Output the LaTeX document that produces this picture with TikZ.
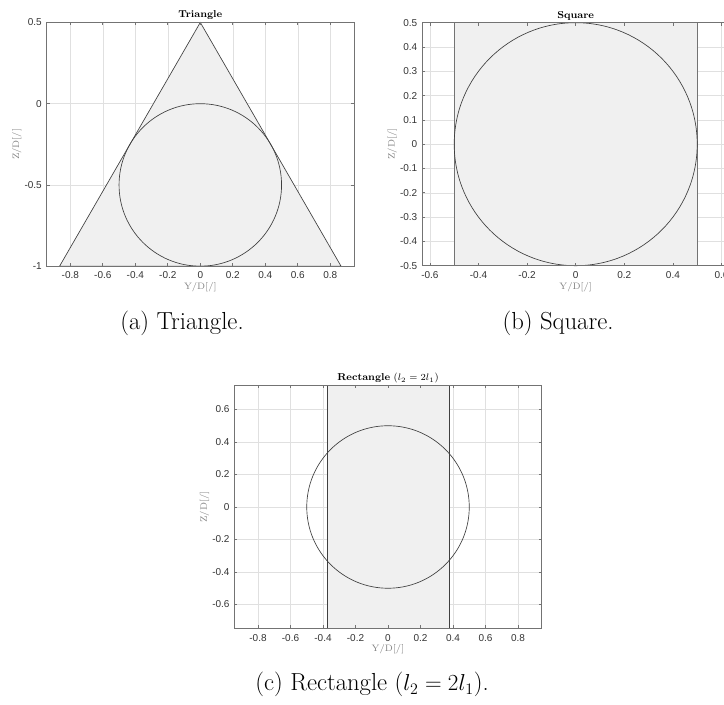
\documentclass[tikz,border=0pt]{standalone}
\usepackage{fontspec}
\newfontfamily\ticksf{Liberation Sans}
\usepackage{tikz}

\definecolor{facegray}{gray}{0.94}
\definecolor{edgegray}{gray}{0.25}
\definecolor{boxgray}{gray}{0.45}
\definecolor{gridgray}{gray}{0.88}

\tikzset{
  gridline/.style={draw=gridgray, line width=0.4pt},
  fillshape/.style={fill=facegray, draw=edgegray, line width=0.5pt},
  incircle/.style={draw=edgegray, line width=0.5pt},
  axisbox/.style={draw=boxgray, line width=0.5pt},
  ticklabel/.style={font=\ticksf\fontsize{7.5}{9}\selectfont, text=black!80, inner sep=0pt},
  axlabel/.style={font=\fontsize{7}{8}\selectfont, text=black!50, inner sep=0pt},
  plottitle/.style={font=\fontsize{7.5}{9}\selectfont, inner sep=0pt},
  subcap/.style={font=\fontsize{18.5}{22}\selectfont, inner sep=0pt, anchor=base},
}

\begin{document}
\begin{tikzpicture}[x=0.75pt,y=0.75pt]
  \clip (0,0) rectangle (724,705);

  %(a) 三角形
  \begin{scope}[shift={(200.3,601.3)},x=121.875pt,y=121.875pt]
    %グリッド
    \foreach \x in {-0.8,-0.6,-0.4,-0.2,0,0.2,0.4,0.6,0.8}
      \draw[gridline] (\x,-1) -- (\x,0.5);
    \foreach \y in {-1,-0.5,0,0.5}
      \draw[gridline] (-0.945,\y) -- (0.945,\y);

    %三角形と内接円
    \draw[fillshape] (0,0.5) -- (-0.866,-1) -- (0.866,-1) -- cycle;
    \draw[incircle] (0,-0.5) circle (0.5);

    %枠と目盛り
    \draw[axisbox] (-0.945,-1) rectangle (0.945,0.5);
    \foreach \x [count=\i] in {-0.8,-0.6,-0.4,-0.2,0,0.2,0.4,0.6,0.8} {
      \draw[axisbox] (\x,-1) -- ++(0pt,2.25pt);
      \draw[axisbox] (\x,0.5) -- ++(0pt,-2.25pt);
      \node[ticklabel, anchor=base, yshift=-9.5pt] (ax\i) at (\x,-1) {\x};
    }
    \foreach \y [count=\i] in {-1,-0.5,0,0.5} {
      \draw[axisbox] (-0.945,\y) -- ++(2.25pt,0pt);
      \draw[axisbox] (0.945,\y) -- ++(-2.25pt,0pt);
      \node[ticklabel, anchor=east, xshift=-3.5pt] (ay\i) at (-0.945,\y) {\y};
    }

    %ラベル
    \node[plottitle, anchor=base, yshift=3.5pt] (ta) at (0,0.5) {\textbf{Triangle}};
    \node[axlabel, anchor=base, yshift=-17.5pt] (ya) at (0,-1) {Y/D[/]};
    \node[axlabel, xshift=-22.5pt, rotate=90] (za) at (-0.945,-0.25) {Z/D[/]};
  \end{scope}

  %(b) 正方形
  \begin{scope}[shift={(575.7,560.8)},x=182.25pt,y=182.25pt]
    %グリッド
    \foreach \x in {-0.6,-0.4,-0.2,0,0.2,0.4,0.6}
      \draw[gridline] (\x,-0.5) -- (\x,0.5);
    \foreach \y in {-0.4,-0.3,-0.2,-0.1,0,0.1,0.2,0.3,0.4}
      \draw[gridline] (-0.6318,\y) -- (0.6318,\y);

    %正方形と内接円
    \draw[fillshape, draw=boxgray, line width=0.8pt] (-0.5,-0.5) rectangle (0.5,0.5);
    \draw[incircle] (0,0) circle (0.5);

    %枠と目盛り
    \draw[axisbox] (-0.6318,-0.5) rectangle (0.6318,0.5);
    \foreach \x [count=\i] in {-0.6,-0.4,-0.2,0,0.2,0.4,0.6} {
      \draw[axisbox] (\x,-0.5) -- ++(0pt,2.25pt);
      \draw[axisbox] (\x,0.5) -- ++(0pt,-2.25pt);
      \node[ticklabel, anchor=base, yshift=-9.5pt] (bx\i) at (\x,-0.5) {\x};
    }
    \foreach \y [count=\i] in {-0.5,-0.4,-0.3,-0.2,-0.1,0,0.1,0.2,0.3,0.4,0.5} {
      \draw[axisbox] (-0.6318,\y) -- ++(2.25pt,0pt);
      \draw[axisbox] (0.6318,\y) -- ++(-2.25pt,0pt);
      \node[ticklabel, anchor=east, xshift=-3.5pt] (by\i) at (-0.6318,\y) {\y};
    }

    %ラベル
    \node[plottitle, anchor=base, yshift=3.5pt] (tb) at (0,0.5) {\textbf{Square}};
    \node[axlabel, anchor=base, yshift=-17.5pt] (yb) at (0,-0.5) {Y/D[/]};
    \node[axlabel, xshift=-22.5pt, rotate=90] (zb) at (-0.6318,0) {Z/D[/]};
  \end{scope}

  %(c) 長方形
  \begin{scope}[shift={(388,198)},x=121.875pt,y=121.875pt]
    %グリッド
    \foreach \x in {-0.8,-0.6,-0.4,-0.2,0,0.2,0.4,0.6,0.8}
      \draw[gridline] (\x,-0.7477) -- (\x,0.7477);
    \foreach \y in {-0.6,-0.4,-0.2,0,0.2,0.4,0.6}
      \draw[gridline] (-0.945,\y) -- (0.945,\y);

    %長方形と円
    \draw[fillshape] (-0.375,-0.7477) rectangle (0.375,0.7477);
    \draw[incircle] (0,0) circle (0.5);

    %枠と目盛り
    \draw[axisbox] (-0.945,-0.7477) rectangle (0.945,0.7477);
    \foreach \x [count=\i] in {-0.8,-0.6,-0.4,-0.2,0,0.2,0.4,0.6,0.8} {
      \draw[axisbox] (\x,-0.7477) -- ++(0pt,2.25pt);
      \draw[axisbox] (\x,0.7477) -- ++(0pt,-2.25pt);
      \node[ticklabel, anchor=base, yshift=-9.5pt] (cx\i) at (\x,-0.7477) {\x};
    }
    \foreach \y [count=\i] in {-0.6,-0.4,-0.2,0,0.2,0.4,0.6} {
      \draw[axisbox] (-0.945,\y) -- ++(2.25pt,0pt);
      \draw[axisbox] (0.945,\y) -- ++(-2.25pt,0pt);
      \node[ticklabel, anchor=east, xshift=-3.5pt] (cy\i) at (-0.945,\y) {\y};
    }

    %ラベル
    \node[plottitle, anchor=base, yshift=3.5pt] (tc) at (0,0.7477) {\textbf{Rectangle} ($l_2 = 2l_1$)};
    \node[axlabel, anchor=base, yshift=-17.5pt] (yc) at (0,-0.7477) {Y/D[/]};
    \node[axlabel, xshift=-22.5pt, rotate=90] (zc) at (-0.945,0) {Z/D[/]};
  \end{scope}

  %キャプション
  \node[subcap] (capa) at (182,375) {(a) Triangle.};
  \node[subcap] (capb) at (558,375) {(b) Square.};
  \node[subcap] (capc) at (372,14) {(c) Rectangle ($l_2 = 2l_1$).};
\end{tikzpicture}
\end{document}
